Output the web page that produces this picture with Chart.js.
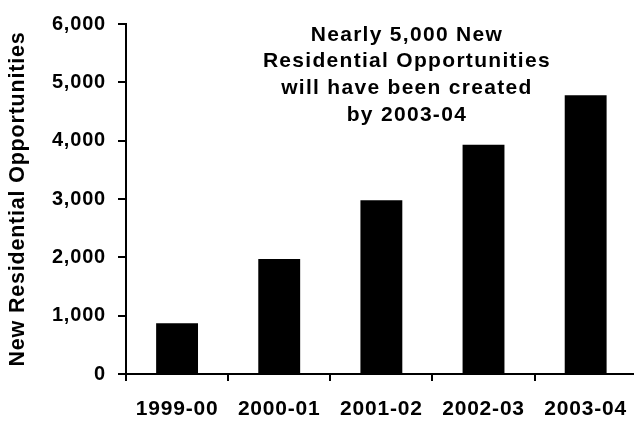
<!DOCTYPE html>
<html>
<head>
<meta charset="utf-8">
<script src="https://cdn.jsdelivr.net/npm/chart.js@4"></script>
<style>
  html, body { margin: 0; padding: 0; background: #fff; overflow: hidden; }
  .wrap { position: relative; width: 643px; height: 424px; }
</style>
</head>
<body>
<div class="wrap"><canvas class="chart"></canvas></div>
<script>
const years = ['1999-00', '2000-01', '2001-02', '2002-03', '2003-04'];
const opportunities = [870, 1970, 2980, 3930, 4780];
const yTicks = [0, 1000, 2000, 3000, 4000, 5000, 6000];
const note = [
  'Nearly 5,000 New',
  'Residential Opportunities',
  'will have been created',
  'by 2003-04'
];

const FONT = "'Liberation Sans', Arial, sans-serif";
Chart.defaults.color = '#000';
Chart.defaults.font.family = FONT;

// the lettering is set a little loose
const spacing = {
  id: 'spacing',
  beforeUpdate(chart) { chart.ctx.letterSpacing = '0.8px'; },
  beforeDraw(chart) { chart.ctx.letterSpacing = '0.8px'; }
};

// text block sitting in the upper part of the plot
const noteText = {
  id: 'noteText',
  afterDraw(chart) {
    const ctx = chart.ctx;
    const x = chart.scales.x.getPixelForValue(2.25);
    ctx.save();
    ctx.letterSpacing = '1.3px';
    ctx.font = 'bold 21px ' + FONT;
    ctx.fillStyle = '#000';
    ctx.textAlign = 'center';
    ctx.textBaseline = 'alphabetic';
    note.forEach((line, i) => {
      ctx.fillText(line, x, 40.5 + i * 26.9);
    });
    ctx.restore();
  }
};

const myCanvas = document.querySelector('.chart');
const myChart = new Chart(myCanvas, {
  type: 'bar',
  data: {
    labels: years,
    datasets: [{
      data: opportunities,
      backgroundColor: '#000',
      borderWidth: 0,
      categoryPercentage: 1,
      barPercentage: 0.41
    }]
  },
  options: {
    responsive: true,
    maintainAspectRatio: false,
    animation: false,
    layout: { padding: { top: 22, left: 0, right: 0, bottom: 0 } },
    plugins: {
      legend: { display: false },
      tooltip: { enabled: false }
    },
    scales: {
      x: {
        afterFit: (s) => { s.height = 50; },
        grid: {
          offset: true,
          drawOnChartArea: false,
          drawTicks: true,
          tickLength: 7,
          color: '#000',
          lineWidth: 2
        },
        border: { display: true, color: '#000', width: 2 },
        ticks: {
          padding: 16,
          maxRotation: 0,
          font: { size: 21, weight: 'bold' }
        }
      },
      y: {
        min: 0,
        max: 6000,
        afterFit: (s) => { s.width = 126; },
        afterBuildTicks: (s) => { s.ticks = yTicks.map(v => ({ value: v })); },
        grid: {
          drawOnChartArea: false,
          drawTicks: true,
          tickLength: 8,
          color: '#000',
          lineWidth: 2
        },
        border: { display: true, color: '#000', width: 2 },
        ticks: {
          padding: 12,
          font: { size: 20, weight: 'bold' },
          callback: (v) => v.toLocaleString('en-US')
        },
        title: {
          display: true,
          text: 'New Residential Opportunities',
          padding: { top: 5, bottom: 0 },
          font: { size: 21.5, weight: 'bold' }
        }
      }
    }
  },
  plugins: [spacing, noteText]
});
</script>
</body>
</html>
